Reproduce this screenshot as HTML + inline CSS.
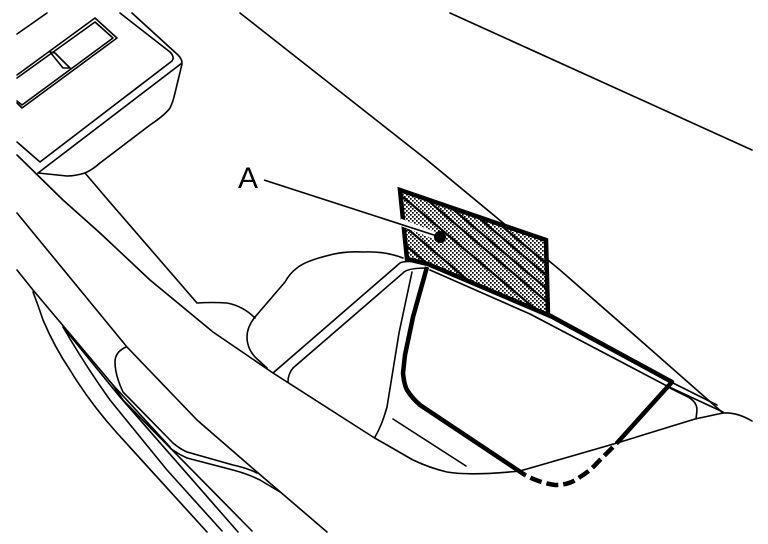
<!DOCTYPE html>
<html><head><meta charset="utf-8">
<style>html,body{margin:0;padding:0;background:#fff}svg{display:block}</style>
</head><body>
<svg width="768" height="544" viewBox="0 0 768 544" xmlns="http://www.w3.org/2000/svg">
<defs>
<pattern id="dots" width="4" height="4" patternUnits="userSpaceOnUse">
<rect width="4" height="4" fill="#fff"/>
<rect x="0" y="0" width="1.7" height="1.7" fill="#000"/>
<rect x="2" y="2" width="1.7" height="1.7" fill="#000"/>
</pattern>
<clipPath id="pc"><path d="M400 190L546 240L548 315L428 264L407 259Z"/></clipPath>
</defs>
<g fill="none" stroke="#000" stroke-width="1.6" stroke-linejoin="round" stroke-linecap="round">
<path d="M450 13L752 150"/>
<path d="M240 13L427 160L560 270L640 340L723 413"/>
<path d="M17 34L47 13"/>
<path d="M17 75L95 18L117 38L22 108L17 103"/>
<path d="M17 78L95 22L113 38L22 105L17 101"/>
<path d="M50 52L63 68L70 68L55 53Z"/>
<path d="M120 13L170 52Q175 57 172 61L40 162L17 142"/>
<path d="M132 13L178 55Q182 59 182 63L38 173"/>
<path d="M182 64L175 93Q173 102 170 108Q165 115 150 125L100 163Q92 170 85 173Q75 176 67 176L38 173"/>
<path d="M17 155L63 200L100 233L150 280L213 332L273 373L373 437L413 460Q430 468 447 472Q470 476 520 471L617 443L695 419L723 413Q737 412 752 421"/>
<path d="M85 173L108 200L197 303Q212 302 227 303Q243 306 255 318"/>
<path d="M403 258Q385 251 363 252Q345 251 330 255Q305 261 297 268Q290 273 285 282L255 317Q247 327 247 337Q247 348 255 357L267 368"/>
<path d="M273 373L400 263Q405 260 427 263"/>
<path d="M288 382Q288 374 293 368L403 273Q407 268 427 268"/>
<path d="M412 272L399 333L387 407Q382 425 375 437"/>
<path d="M393 419L466 466"/>
<path d="M430 270L530 314L667 386L723 412"/>
<path d="M673 383L717 405"/>
<path d="M670 388L688 397Q697 402 697 410L696 419"/>
<path d="M17 213L127 347L197 420L257 472L327 532"/>
<path d="M17 270L33 290L113 385L170 447"/>
<path d="M33 292Q38 305 43 320Q55 348 70 370Q90 403 117 433L207 532"/>
<path d="M63 327Q85 365 110 400L167 470L222 531"/>
<path d="M63 327L120 397L238 532"/>
<path d="M113 385L123 400L252 531"/>
<path d="M126 347Q115 352 115 362Q115 375 123 392L173 443Q180 449 187 452L233 465Q247 468 257 473"/>
<path d="M170 448Q178 454 187 458L233 470Q248 474 260 480L280 492"/>
</g>
<path d="M400 190L546 240L548 315L428 264L407 259Z" fill="url(#dots)"/>
<g clip-path="url(#pc)" stroke="#000" stroke-width="2.2" fill="none">
<path d="M403 197L560 330M425 198L560 313M448 205L560 300M472 212L560 287M497 222L560 275"/>
<path d="M403 225L490 299M403 243L450 283"/>
</g>
<path d="M400 190L546 240L548 315L428 264L407 259Z" fill="none" stroke="#000" stroke-width="4.5" stroke-linejoin="miter"/>
<g fill="none" stroke="#000" stroke-width="4.5" stroke-linejoin="round">
<path d="M427 267L413 317L405 355L403 373Q404 384 407 390Q412 398 420 405L525 475"/>
<path d="M617 443L672 382L547 314"/>
<path d="M525 475Q540 483 555 485Q570 485 580 477Q590 471 597 463L617 443" stroke-dasharray="12 5" stroke-dashoffset="-6"/>
</g>
<path d="M400 222L436 236" stroke="#fff" stroke-width="7" fill="none"/>
<path d="M264 180L440 237" stroke="#000" stroke-width="1.6" fill="none"/>
<circle cx="440" cy="237" r="6" fill="#000"/>
<text x="238" y="188" font-family="'Liberation Sans',sans-serif" font-size="30" fill="#000">A</text>
</svg>
</body></html>
